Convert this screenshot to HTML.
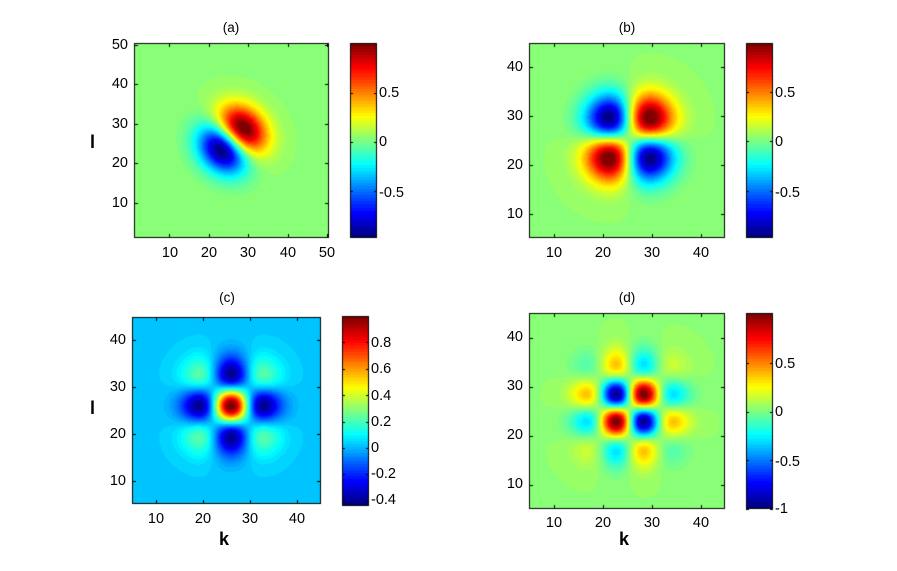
<!DOCTYPE html>
<html><head><meta charset="utf-8"><style>
body{margin:0;background:#fff;}
#w{position:relative;width:897px;height:571px;overflow:hidden;background:#fff;font-family:"Liberation Sans",Arial,sans-serif;font-size:14.5px;color:#000;}
canvas{position:absolute;left:0;top:0;}
.t{position:absolute;line-height:16px;white-space:nowrap;}
.yl{text-align:right;width:40px;}
.xl{text-align:center;width:40px;}
.cl{text-align:left;}
.ti{font-size:13.5px;}
.b{font-weight:bold;font-size:18px;}
</style></head><body><div id="w">
<canvas id="c" width="897" height="571"></canvas>

<div class="t xl ti" style="left:211px;top:20px">(a)</div>
<div class="t xl ti" style="left:607px;top:20px">(b)</div>
<div class="t xl ti" style="left:207px;top:290px">(c)</div>
<div class="t xl ti" style="left:607px;top:290px">(d)</div>

<div class="t b" style="left:90px;top:134px">l</div>
<div class="t b" style="left:90px;top:400px">l</div>
<div class="t b" style="left:219px;top:531px">k</div>
<div class="t b" style="left:619px;top:531px">k</div>

<!-- A -->
<div class="t yl" style="left:88px;top:37px">50</div>
<div class="t yl" style="left:88px;top:76px">40</div>
<div class="t yl" style="left:88px;top:116px">30</div>
<div class="t yl" style="left:88px;top:155px">20</div>
<div class="t yl" style="left:88px;top:195px">10</div>
<div class="t xl" style="left:150px;top:245px">10</div>
<div class="t xl" style="left:189px;top:245px">20</div>
<div class="t xl" style="left:228px;top:245px">30</div>
<div class="t xl" style="left:268px;top:245px">40</div>
<div class="t xl" style="left:307px;top:245px">50</div>
<div class="t cl" style="left:379px;top:85px">0.5</div>
<div class="t cl" style="left:379px;top:134px">0</div>
<div class="t cl" style="left:379px;top:185px">-0.5</div>
<!-- B -->
<div class="t yl" style="left:483px;top:59px">40</div>
<div class="t yl" style="left:483px;top:108px">30</div>
<div class="t yl" style="left:483px;top:157px">20</div>
<div class="t yl" style="left:483px;top:206px">10</div>
<div class="t xl" style="left:534px;top:245px">10</div>
<div class="t xl" style="left:583px;top:245px">20</div>
<div class="t xl" style="left:632px;top:245px">30</div>
<div class="t xl" style="left:681px;top:245px">40</div>
<div class="t cl" style="left:775px;top:85px">0.5</div>
<div class="t cl" style="left:775px;top:134px">0</div>
<div class="t cl" style="left:775px;top:185px">-0.5</div>
<!-- C -->
<div class="t yl" style="left:86px;top:332px">40</div>
<div class="t yl" style="left:86px;top:379px">30</div>
<div class="t yl" style="left:86px;top:426px">20</div>
<div class="t yl" style="left:86px;top:473px">10</div>
<div class="t xl" style="left:136px;top:511px">10</div>
<div class="t xl" style="left:183px;top:511px">20</div>
<div class="t xl" style="left:230px;top:511px">30</div>
<div class="t xl" style="left:277px;top:511px">40</div>
<div class="t cl" style="left:371px;top:335px">0.8</div>
<div class="t cl" style="left:371px;top:361px">0.6</div>
<div class="t cl" style="left:371px;top:388px">0.4</div>
<div class="t cl" style="left:371px;top:414px">0.2</div>
<div class="t cl" style="left:371px;top:440px">0</div>
<div class="t cl" style="left:371px;top:466px">-0.2</div>
<div class="t cl" style="left:371px;top:492px">-0.4</div>
<!-- D -->
<div class="t yl" style="left:483px;top:329px">40</div>
<div class="t yl" style="left:483px;top:378px">30</div>
<div class="t yl" style="left:483px;top:427px">20</div>
<div class="t yl" style="left:483px;top:476px">10</div>
<div class="t xl" style="left:534px;top:515px">10</div>
<div class="t xl" style="left:583px;top:515px">20</div>
<div class="t xl" style="left:632px;top:515px">30</div>
<div class="t xl" style="left:681px;top:515px">40</div>
<div class="t cl" style="left:775px;top:356px">0.5</div>
<div class="t cl" style="left:775px;top:404px">0</div>
<div class="t cl" style="left:775px;top:454px">-0.5</div>
<div class="t cl" style="left:775px;top:501px">-1</div>
</div>
<script>
var cv=document.getElementById('c'),ctx=cv.getContext('2d');
function cl(v){return v<0?0:v>1?1:v;}
function jet(t){t=Math.floor(cl(t)*63.999)/63;return [cl(1.5-Math.abs(4*t-3))*255,cl(1.5-Math.abs(4*t-2))*255,cl(1.5-Math.abs(4*t-1))*255];}
function fa(x,y){var dx=x-26,dy=y-26,u=(dx+dy)/Math.SQRT2,v=(dx-dy)/Math.SQRT2;return u*Math.exp(-u*u/36-v*v/45)/2.574;}
function fb(x,y){var dx=x-25.5,dy=y-25.5;return dx*dy*Math.exp(-(dx*dx+dy*dy)/36)/6.62;}
function g(u){return (1-u*u/16)*Math.exp(-u*u/31.6);}
function fc(x,y){return g(x-26)*g(y-26);}
function h(u){return u*(1-u*u/42)*Math.exp(-u*u/30.5);}
var hm=0;for(var u=0;u<6;u+=0.01){hm=Math.max(hm,h(u));}
function fd(x,y){return h(x-25.6)*h(y-25.6)/(hm*hm);}
function panel(L,R,T,B,x0,x1,y0,y1,f,cmin,cmax,off,xt,yt){
 var W=R-L,H=B-T,img=ctx.createImageData(W,H);
 for(var j=0;j<H;j++)for(var i=0;i<W;i++){
  var x=x0+(i+0.5)/W*(x1-x0),y=y1-(j+0.5)/H*(y1-y0);
  var c=jet((f(x,y)-cmin)/(cmax-cmin)+off),k=(j*W+i)*4;
  img.data[k]=c[0];img.data[k+1]=c[1];img.data[k+2]=c[2];img.data[k+3]=255;}
 ctx.putImageData(img,L,T);
 ctx.strokeStyle='#000';ctx.lineWidth=1;
 ctx.strokeRect(L+0.5,T+0.5,W-1,H-1);
 ctx.beginPath();
 xt.forEach(function(v){var px=Math.round(L+(v-x0)/(x1-x0)*W)+0.5;ctx.moveTo(px,B);ctx.lineTo(px,B-4);ctx.moveTo(px,T);ctx.lineTo(px,T+4);});
 yt.forEach(function(v){var py=Math.round(B-(v-y0)/(y1-y0)*H)+0.5;ctx.moveTo(L,py);ctx.lineTo(L+4,py);ctx.moveTo(R,py);ctx.lineTo(R-4,py);});
 ctx.stroke();}
function cbar(L,R,T,B,cmin,cmax,ticks){
 var H=B-T;
 for(var j=0;j<H;j++){var t=1-(j+0.5)/H;var c=jet(t);ctx.fillStyle='rgb('+(c[0]|0)+','+(c[1]|0)+','+(c[2]|0)+')';ctx.fillRect(L,T+j,R-L,1);}
 ctx.strokeStyle='#000';ctx.strokeRect(L+0.5,T+0.5,R-L-1,H-1);
 ctx.beginPath();
 ticks.forEach(function(v){var py=Math.round(B-(v-cmin)/(cmax-cmin)*H)+0.5;ctx.moveTo(L,py);ctx.lineTo(L+3,py);ctx.moveTo(R,py);ctx.lineTo(R-3,py);});
 ctx.stroke();}
panel(134,329,43,238,1,50.5,1,50.5,fa,-0.98,1.01,0.02,[10,20,30,40,50],[10,20,30,40,50]);
cbar(350,377,43,238,-0.98,1.01,[-0.5,0,0.5]);
panel(529,725,43,238,5,45,5,45,fb,-0.98,1.0,0.02,[10,20,30,40],[10,20,30,40]);
cbar(746,773,43,238,-0.98,1.0,[-0.5,0,0.5]);
panel(132,321,317,504,5,45,5,45,fc,-0.44,1.0,0.02,[10,20,30,40],[10,20,30,40]);
cbar(342,369,316,506,-0.44,1.0,[-0.4,-0.2,0,0.2,0.4,0.6,0.8]);
panel(529,725,313,509,5,45,5,45,fd,-1,1.02,0.02,[10,20,30,40],[10,20,30,40]);
cbar(746,773,313,509,-1,1.02,[-1,-0.5,0,0.5]);
</script>
</body></html>
